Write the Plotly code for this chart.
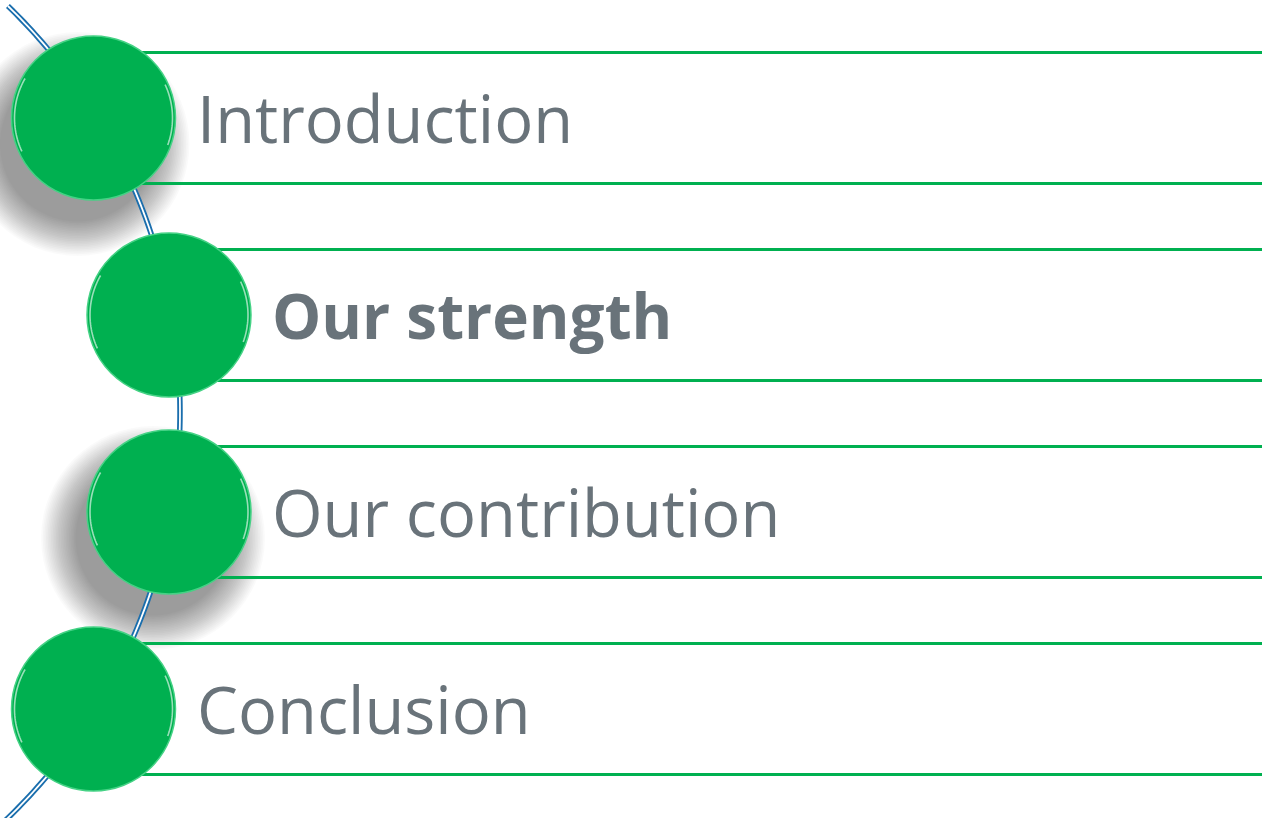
import math
import plotly.graph_objects as go

# ---- data ----
labels = ["Introduction", "Our strength", "Our contribution", "Conclusion"]
bold = [False, True, False, False]
level = [0, 1, 1, 0]          # indentation level of each step
has_shadow = [True, False, True, False]

W, H = 1262, 818
GREEN = "#00b050"
TEXT = "#69737a"
BLUE = "#1a6ead"

row0, row_step = 118, 197
cx0, cx_step = 93.5, 75.5
R = 82
half_band = 65.5

fig = go.Figure()
shapes = []

# shadows (soft, offset down-left)
for i in range(len(labels)):
    if not has_shadow[i]:
        continue
    cy = row0 + i * row_step
    cx = cx0 + level[i] * cx_step
    sx, sy = cx - 16, cy + 26
    n = 22
    for k in range(n):
        rr = R + 36 * (1 - k / n) - 6
        shapes.append(dict(type="circle", xref="x", yref="y",
                           x0=sx - rr, x1=sx + rr, y0=sy - rr, y1=sy + rr,
                           fillcolor="rgba(0,0,0,0.02)", line=dict(width=0), layer="above"))

# connecting arc (double line)
acx, acy, AR = -385, 412, 565
pts = []
for t in range(0, 201):
    y = 6 + t * (814 / 200)
    x = acx + math.sqrt(AR ** 2 - (y - acy) ** 2)
    pts.append((x, y))
path = "M " + " L ".join(f"{x:.2f},{y:.2f}" for x, y in pts)
shapes.append(dict(type="path", path=path, xref="x", yref="y",
                   line=dict(color=BLUE, width=5.5), layer="above"))
shapes.append(dict(type="path", path=path, xref="x", yref="y",
                   line=dict(color="white", width=1.8), layer="above"))

# band lines
for i in range(len(labels)):
    cy = row0 + i * row_step
    cx = cx0 + level[i] * cx_step
    for dy in (-half_band, half_band):
        shapes.append(dict(type="line", xref="x", yref="y", x0=cx, x1=W + 20,
                           y0=cy + dy, y1=cy + dy,
                           line=dict(color=GREEN, width=3), layer="above"))

# circles
for i in range(len(labels)):
    cy = row0 + i * row_step
    cx = cx0 + level[i] * cx_step
    shapes.append(dict(type="circle", xref="x", yref="y",
                       x0=cx - R, x1=cx + R, y0=cy - R, y1=cy + R,
                       fillcolor=GREEN, line=dict(color="#45d285", width=1.5), layer="above"))
    # glossy highlights
    for a0, a1 in ((155, 210), (-25, 20)):
        rr = R - 3
        hp = []
        for k in range(31):
            a = math.radians(a0 + (a1 - a0) * k / 30)
            hp.append((cx + rr * math.cos(a), cy + rr * math.sin(a)))
        p = "M " + " L ".join(f"{x:.2f},{y:.2f}" for x, y in hp)
        shapes.append(dict(type="path", path=p, xref="x", yref="y",
                           line=dict(color="rgba(255,255,255,0.6)", width=1.6), layer="above"))

# labels
for i, lab in enumerate(labels):
    cy = row0 + i * row_step
    cx = cx0 + level[i] * cx_step
    fig.add_annotation(x=cx + 101, y=cy, text=(f"<b>{lab}</b>" if bold[i] else lab),
                       xref="x", yref="y", xanchor="left", yanchor="middle",
                       showarrow=False,
                       font=dict(family="Open Sans, sans-serif", size=(62 if bold[i] else 65),
                                 color=TEXT))

fig.add_trace(go.Scatter(x=[0, W], y=[0, H], mode="markers",
                         marker=dict(opacity=0), hoverinfo="skip", showlegend=False))

fig.update_layout(width=W, height=H, margin=dict(l=0, r=0, t=0, b=0),
                  paper_bgcolor="white", plot_bgcolor="white", shapes=shapes,
                  xaxis=dict(range=[0, W], visible=False, fixedrange=True),
                  yaxis=dict(range=[H, 0], visible=False, fixedrange=True),
                  showlegend=False, hovermode=False)

fig.write_html("out.html", config={"displayModeBar": False, "staticPlot": True},
               post_script="document.body.style.margin='0';document.body.style.overflow='hidden';")
